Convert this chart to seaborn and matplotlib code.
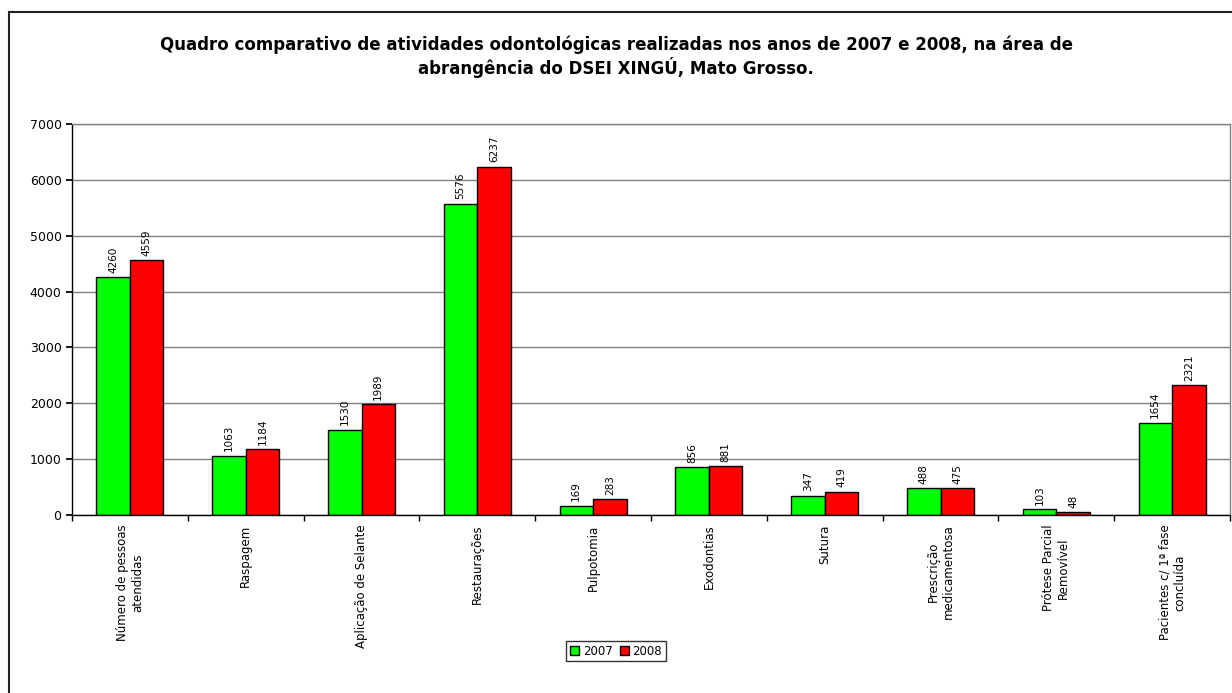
import matplotlib
matplotlib.use("Agg")
import matplotlib.pyplot as plt
import seaborn as sns
import pandas as pd
import numpy as np
from matplotlib.patches import Rectangle
from matplotlib.ticker import FixedLocator, MultipleLocator

categories = ["Número de pessoas\natendidas", "Raspagem", "Aplicação de Selante",
              "Restaurações", "Pulpotomia", "Exodontias", "Sutura",
              "Prescrição\nmedicamentosa", "Prótese Parcial\nRemovível",
              "Pacientes c/ 1ª fase\nconcluída"]
values_2007 = [4260, 1063, 1530, 5576, 169, 856, 347, 488, 103, 1654]
values_2008 = [4559, 1184, 1989, 6237, 283, 881, 419, 475, 48, 2321]
years = ["2007", "2008"]
title = ("Quadro comparativo de atividades odontológicas realizadas nos anos de 2007 e 2008, na área de\n"
         "abrangência do DSEI XINGÚ, Mato Grosso.")

df = pd.DataFrame({
    "cat": categories * 2,
    "ano": [years[0]] * len(categories) + [years[1]] * len(categories),
    "val": values_2007 + values_2008,
})

sns.set_theme(style="white")
plt.rcParams["font.family"] = ["DejaVu Sans"]
plt.rcParams["text.color"] = "black"
plt.rcParams["xtick.color"] = "black"
plt.rcParams["ytick.color"] = "black"
plt.rcParams["axes.labelcolor"] = "black"

fig = plt.figure(figsize=(12.32, 6.93), dpi=100)
ax = fig.add_axes([72/1232, 1-515/693, (1230-72)/1232, (515-124)/693])

sns.barplot(data=df, x="cat", y="val", hue="ano", palette=["#00FF00", "#FF0000"],
            edgecolor="black", linewidth=1.0, width=0.58, saturation=1, ax=ax, legend=True)

ax.set_ylim(0, 7000)
ax.set_xlim(-0.5, len(categories) - 0.5)
ax.yaxis.set_major_locator(MultipleLocator(1000))
ax.grid(axis="y", color="#808080", linewidth=1.0)
ax.set_axisbelow(True)
ax.set_xlabel("")
ax.set_ylabel("")

for c in ax.containers:
    ax.bar_label(c, rotation=90, padding=3, fontsize=7.5, color="black")

ax.set_xticks(range(len(categories)))
ax.set_xticklabels(categories, rotation=90, va="top", ha="center",
                   multialignment="center", fontsize=8.5, color="black")
ax.tick_params(axis="x", which="major", length=0, pad=7)
ax.xaxis.set_minor_locator(FixedLocator(np.arange(-0.5, len(categories), 1.0)))
ax.tick_params(axis="x", which="minor", length=4, color="black", direction="out", bottom=True)
ax.tick_params(axis="y", length=4, color="black", direction="out", left=True, labelsize=9)

for s in ["left", "bottom"]:
    ax.spines[s].set_color("black")
    ax.spines[s].set_linewidth(1.0)
for s in ["top", "right"]:
    ax.spines[s].set_color("#808080")
    ax.spines[s].set_linewidth(1.0)

leg = ax.legend(loc="center", bbox_to_anchor=(0.5, 0.06), bbox_transform=fig.transFigure,
                ncol=2, frameon=True, fontsize=8.5, handlelength=0.8, handleheight=0.8,
                handletextpad=0.3, columnspacing=0.6, borderpad=0.3, fancybox=False)
leg.get_frame().set_edgecolor("black")
leg.get_frame().set_linewidth(1.0)
for t in leg.get_texts():
    t.set_color("black")

fig.text(0.5, 1-57/693, title, ha="center", va="center", fontsize=12,
         fontweight="bold", multialignment="center", linespacing=1.2, color="black")

fig.patches.append(Rectangle((9/1232, -0.05), 1.1, 1-12/693+0.05, transform=fig.transFigure,
                             fill=False, edgecolor="#222222", linewidth=1.5))

fig.savefig("out.png", dpi=100)
